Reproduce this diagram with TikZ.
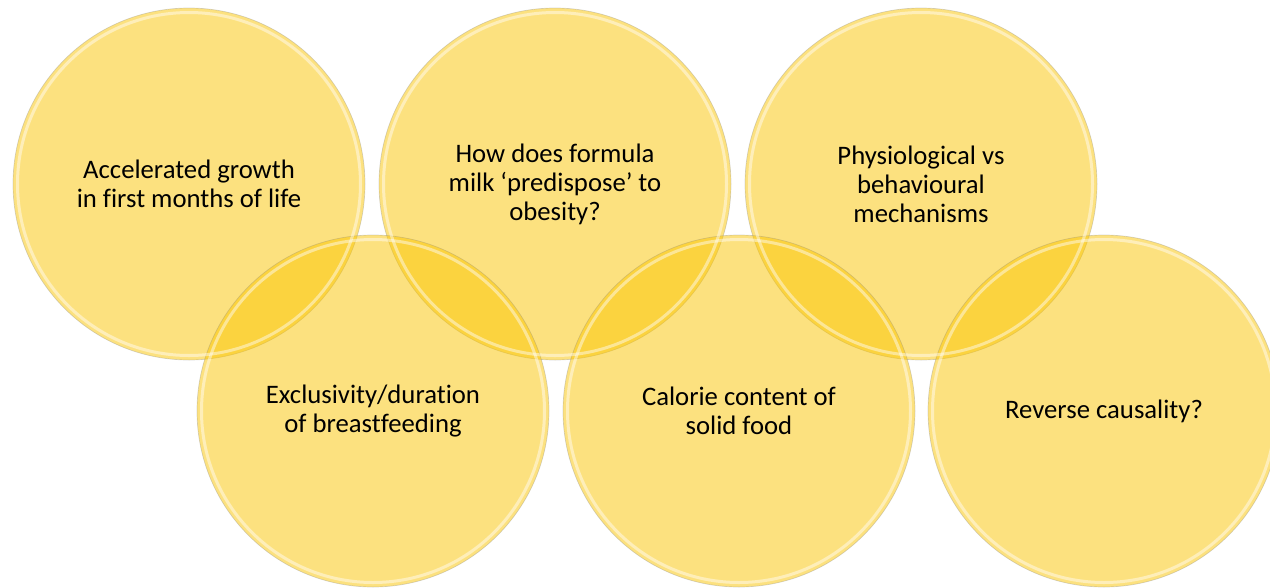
\documentclass[tikz,border=0pt]{standalone}
\usepackage{fontspec}
\setmainfont[Ligatures={NoCommon}]{Carlito}
\definecolor{bubble}{RGB}{250,196,0}
\begin{document}
\begin{tikzpicture}[x=1pt,y=-1pt,
  bubble/.style={circle, minimum size=352pt, inner sep=0pt,
    fill=bubble, fill opacity=0.5, draw=gray, draw opacity=0.3, line width=0.7pt},
  rim/.style={draw=white, draw opacity=0.45, line width=3pt},
  label/.style={align=center, text=black, font=\fontsize{26.7}{29}\selectfont}]
\useasboundingbox (0,0) rectangle (1270,587);
% top row
\node[bubble] (c1) at (189,184) {};
\node[bubble] (c2) at (555,184) {};
\node[bubble] (c3) at (921,184) {};
% bottom row
\node[bubble] (c4) at (373,411) {};
\node[bubble] (c5) at (739,411) {};
\node[bubble] (c6) at (1104,411) {};
% glassy inner rims
\foreach \c in {c1,c2,c3,c4,c5,c6}
  \draw[rim] (\c.center) circle[radius=171.5pt];
% captions
\node[label] (t1) at (c1) {Accelerated growth\\in first months of life};
\node[label] (t2) at (c2) {How does formula\\milk ‘predispose’ to\\obesity?};
\node[label] (t3) at (c3) {Physiological vs\\behavioural\\mechanisms};
\node[label] (t4) at (c4) {Exclusivity/duration\\of breastfeeding};
\node[label] (t5) at (c5) {Calorie content of\\solid food};
\node[label] (t6) at (c6) {Reverse causality?};
\end{tikzpicture}
\end{document}
